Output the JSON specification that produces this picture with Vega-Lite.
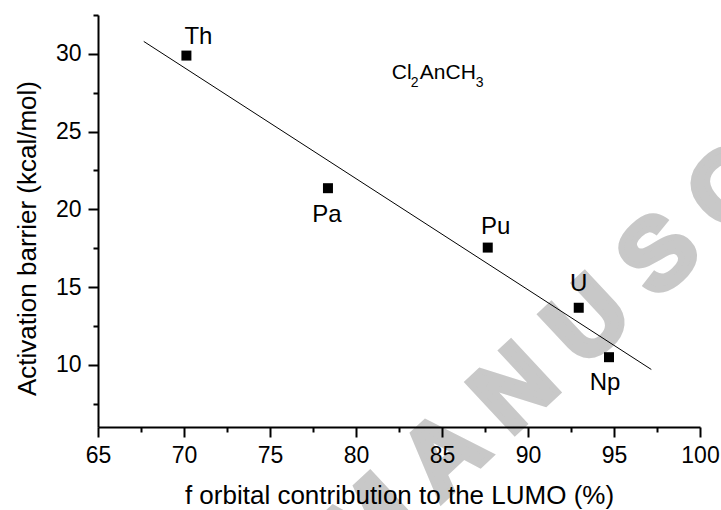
{
  "$schema": "https://vega.github.io/schema/vega-lite/v6.json",
  "width": 602,
  "height": 412,
  "autosize": {"type": "none"},
  "padding": {"left": 98, "top": 15, "right": 21, "bottom": 83},
  "background": "white",
  "config": {"view": {"stroke": null}, "font": "Liberation Sans"},
  "datasets": {
    "pts": [
      {"f": 70.14, "barrier": 29.89, "An": "Th"},
      {"f": 78.37, "barrier": 21.36, "An": "Pa"},
      {"f": 87.66, "barrier": 17.54, "An": "Pu"},
      {"f": 92.95, "barrier": 13.67, "An": "U"},
      {"f": 94.71, "barrier": 10.49, "An": "Np"}
    ],
    "fit": [
      {"f": 67.66, "barrier": 30.80},
      {"f": 97.17, "barrier": 9.70}
    ],
    "note": [{"f": 82.08, "barrier": 28.39}],
    "wm": [{"f": 98.4, "barrier": 17.74, "t": "M A N U S C R I P T"}]
  },
  "encoding": {
    "x": {
      "field": "f", "type": "quantitative",
      "scale": {"domain": [65, 100], "nice": false, "zero": false},
      "axis": {
        "title": "f orbital contribution to the LUMO (%)",
        "zindex": 1,
        "values": [65, 67.5, 70, 72.5, 75, 77.5, 80, 82.5, 85, 87.5, 90, 92.5, 95, 97.5, 100],
        "labelExpr": "datum.value % 5 === 0 ? datum.label : ''",
        "grid": false,
        "domainColor": "black", "domainWidth": 2,
        "tickColor": "black", "tickWidth": 2,
        "tickSize": {"condition": {"test": "datum.value % 5 === 0", "value": 10}, "value": 5},
        "labelFontSize": 23, "labelColor": "black", "labelPadding": 7,
        "labelFont": "Liberation Sans", "labelFlush": false, "labelOverlap": false,
        "titleFont": "Liberation Sans", "titleFontSize": 26, "titleFontWeight": "normal",
        "titleColor": "black", "titlePadding": 15
      }
    },
    "y": {
      "field": "barrier", "type": "quantitative",
      "scale": {"domain": [6, 32.5], "nice": false, "zero": false},
      "axis": {
        "title": "Activation barrier (kcal/mol)",
        "zindex": 1,
        "values": [7.5, 10, 12.5, 15, 17.5, 20, 22.5, 25, 27.5, 30, 32.5],
        "labelExpr": "datum.value % 5 === 0 ? datum.label : ''",
        "grid": false,
        "domainColor": "black", "domainWidth": 2,
        "tickColor": "black", "tickWidth": 2,
        "tickSize": {"condition": {"test": "datum.value % 5 === 0", "value": 10}, "value": 5},
        "labelFontSize": 23, "labelColor": "black", "labelPadding": 7,
        "labelFont": "Liberation Sans", "labelFlush": false, "labelOverlap": false,
        "titleFont": "Liberation Sans", "titleFontSize": 26, "titleFontWeight": "normal",
        "titleColor": "black", "titleAngle": -90, "titleAlign": "center",
        "titleBaseline": "alphabetic", "titleX": -63, "titleY": 223
      }
    }
  },
  "layer": [
    {
      "data": {"name": "wm"},
      "mark": {"type": "text", "font": "Liberation Sans", "fontWeight": "bold", "fontSize": 100, "color": "#c8c8c8", "stroke": "#c8c8c8", "strokeWidth": 6, "angle": -43, "align": "center", "baseline": "middle"},
      "encoding": {"text": {"field": "t"}}
    },
    {
      "data": {"name": "fit"},
      "mark": {"type": "line", "color": "black", "strokeWidth": 1}
    },
    {
      "data": {"name": "pts"},
      "mark": {"type": "square", "size": 100, "color": "black", "opacity": 1}
    },
    {
      "data": {"name": "pts"},
      "transform": [{"filter": "datum.An === 'Th'"}],
      "mark": {"type": "text", "fontSize": 24, "color": "black", "align": "center", "baseline": "alphabetic", "dx": 12, "dy": -12},
      "encoding": {"text": {"field": "An"}}
    },
    {
      "data": {"name": "pts"},
      "transform": [{"filter": "datum.An === 'Pa'"}],
      "mark": {"type": "text", "fontSize": 24, "color": "black", "align": "center", "baseline": "alphabetic", "dx": -1, "dy": 34},
      "encoding": {"text": {"field": "An"}}
    },
    {
      "data": {"name": "pts"},
      "transform": [{"filter": "datum.An === 'Pu'"}],
      "mark": {"type": "text", "fontSize": 24, "color": "black", "align": "center", "baseline": "alphabetic", "dx": 8, "dy": -14},
      "encoding": {"text": {"field": "An"}}
    },
    {
      "data": {"name": "pts"},
      "transform": [{"filter": "datum.An === 'U'"}],
      "mark": {"type": "text", "fontSize": 24, "color": "black", "align": "center", "baseline": "alphabetic", "dx": 0, "dy": -17},
      "encoding": {"text": {"field": "An"}}
    },
    {
      "data": {"name": "pts"},
      "transform": [{"filter": "datum.An === 'Np'"}],
      "mark": {"type": "text", "fontSize": 24, "color": "black", "align": "center", "baseline": "alphabetic", "dx": -4, "dy": 33},
      "encoding": {"text": {"field": "An"}}
    },
    {
      "data": {"name": "note"},
      "mark": {"type": "text", "fontSize": 21, "color": "black", "align": "left", "baseline": "alphabetic", "dx": 0},
      "encoding": {"text": {"value": "Cl"}}
    },
    {
      "data": {"name": "note"},
      "mark": {"type": "text", "fontSize": 14, "color": "black", "align": "left", "baseline": "alphabetic", "dx": 19, "dy": 8},
      "encoding": {"text": {"value": "2"}}
    },
    {
      "data": {"name": "note"},
      "mark": {"type": "text", "fontSize": 21, "color": "black", "align": "left", "baseline": "alphabetic", "dx": 28},
      "encoding": {"text": {"value": "AnCH"}}
    },
    {
      "data": {"name": "note"},
      "mark": {"type": "text", "fontSize": 14, "color": "black", "align": "left", "baseline": "alphabetic", "dx": 84, "dy": 8},
      "encoding": {"text": {"value": "3"}}
    }
  ]
}
